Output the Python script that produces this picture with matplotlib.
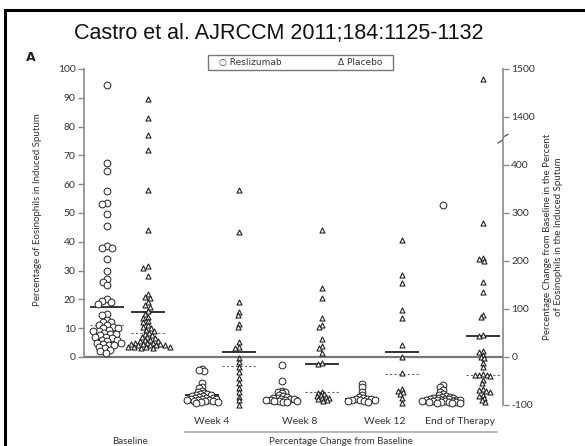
import numpy as np
import matplotlib
matplotlib.use("Agg")
import matplotlib.pyplot as plt
from matplotlib.lines import Line2D
from matplotlib.patches import Rectangle

# ---------------- data ----------------
groups = ["Baseline", "Week 4", "Week 8", "Week 12", "End of Therapy"]

# Baseline: percentage of eosinophils (left axis, 0-100)
base_resli = [94.5, 67.5, 64.5, 57.5, 53.5, 53, 49.5, 45.5, 38.5, 38, 38, 34, 30, 27, 26, 25,
              20, 19.5, 19, 18.5, 15, 14.5, 13, 12, 12, 11, 11, 10.5, 10, 10, 9.5, 9, 9, 8.5,
              8, 8, 7.5, 7, 7, 6.5, 6, 6, 5.5, 5, 5, 4.5, 4, 4, 3.5, 3, 2.5, 2, 1.5]
base_placebo = [89.5, 83, 77, 72, 58, 44, 31.5, 31, 28, 22, 21, 20.5, 19, 18, 17.5, 16, 15, 14,
                13.5, 12.5, 12, 11, 10.5, 10, 9.5, 9, 8.5, 8, 7.5, 7, 7, 6.5, 6, 6, 5.5, 5.5,
                5, 5, 5, 4.5, 4.5, 4.5, 4, 4, 4, 4, 3.5, 3.5, 3.5, 3.5, 3, 3]

# Percentage change from baseline (right axis)
wk4_resli = [-25, -30, -28, -55, -62, -65, -70, -72, -75, -78, -78, -80, -80, -82, -82, -84,
             -85, -85, -86, -87, -88, -88, -89, -90, -90, -91, -92, -92, -93, -94, -95]
wk4_placebo = [348, 260, 115, 94, 88, 69, 63, 31, 21, 19, -2, -10, -21, -31, -44, -54, -65,
               -73, -83, -90, -100]
wk8_resli = [-17, -50, -70, -72, -73, -76, -80, -82, -84, -85, -86, -87, -88, -88, -89, -90,
             -90, -91, -92, -92, -93, -94]
wk8_placebo = [265, 144, 123, 81, 67, 63, 38, 23, 19, 8, -13, -14, -73, -75, -78, -80, -82,
               -84, -85, -86, -88, -90, -92]
wk12_resli = [-56, -62, -73, -80, -84, -86, -87, -88, -88, -89, -90, -90, -91, -92, -93]
wk12_placebo = [244, 171, 154, 98, 81, 25, 0, -33, -67, -70, -73, -77, -85, -96]
eot_resli = [317, -58, -62, -69, -72, -78, -80, -82, -83, -84, -85, -86, -86, -87, -88, -88,
             -89, -89, -90, -90, -90, -91, -91, -92, -92, -93, -93, -94, -94, -95, -95, -96]
eot_placebo = [1479, 279, 206, 204, 200, 156, 135, 88, 83, 45, 44, 12, 10, 5, 0, -2, -13, -21,
               -35, -37, -37, -38, -40, -48, -54, -66, -69, -70, -72, -79, -82, -85, -90, -94]

# summary lines: solid (mean) and dashed (median)
base_solid = [17.4, 15.7]
base_dashed = [11.1, 8.4]
change_solid = [-80, 10, -85, -15, -88, 10, -88, 44]
change_dashed = [-83, -19, -85, -73, -88, -36, -90, -37]

left_ticks = [0, 10, 20, 30, 40, 50, 60, 70, 80, 90, 100]
right_ticks = [-100, 0, 100, 200, 300, 400, 1400, 1500]

# ---------------- layout ----------------
W, H = 585, 446
def fx(x): return x / W
def fy(y): return 1 - y / H

BREAK_SHIFT = 900          # values above the axis break are shifted down
LEFT_SCALE = 6             # 100 % on left axis == 600 on right axis
def to_plot(v):
    v = np.asarray(v, float)
    return np.where(v >= 1000, v - BREAK_SHIFT, v)

col_x = [107, 148, 202, 239, 282, 322, 362, 402, 443, 483]
# horizontal / vertical packing distance (px) for the swarm of each column
swarm_a = [5.5, 5.0, 4.2, 4.0, 4.2, 4.0, 4.2, 4.0, 4.2, 4.0]
swarm_b = [4.5, 3.5, 2.6, 3.0, 2.6, 3.0, 2.6, 3.0, 2.4, 3.0]

fig = plt.figure(figsize=(W / 100, H / 100), dpi=100)
ax = fig.add_axes([fx(84), fy(405), 419 / W, 336 / H])
ax.set_xlim(84, 503)
ax.set_ylim(-100, 600)
for s in ax.spines.values():
    s.set_visible(False)
ax.set_xticks([])

font = "Lato"
tcol = "#333333"
gcol = "#8a8a8a"

# left axis
ax.spines["left"].set_visible(True)
ax.spines["left"].set_bounds(0, 600)
ax.spines["left"].set_color(gcol)
ax.spines["left"].set_linewidth(1.2)
ax.set_yticks([t * LEFT_SCALE for t in left_ticks])
ax.set_yticklabels([str(t) for t in left_ticks], fontsize=7.5, color=tcol, family=font)
ax.tick_params(axis="y", length=4, width=1, color=gcol, pad=2)

# right axis
ax2 = ax.twinx()
ax2.set_ylim(ax.get_ylim())
for s in ax2.spines.values():
    s.set_visible(False)
ax2.spines["right"].set_visible(True)
ax2.spines["right"].set_bounds(-100, 448)
ax2.spines["right"].set_color(gcol)
ax2.spines["right"].set_linewidth(1.2)
ax2.set_yticks(to_plot(right_ticks))
ax2.set_yticklabels([str(t) for t in right_ticks], fontsize=7.5, color=tcol, family=font)
ax2.tick_params(axis="y", length=4, width=1, color=gcol, pad=2)
trans_r = ax2.get_yaxis_transform()
ax2.plot([1, 1], [462, 600], transform=trans_r, color=gcol, lw=1.2, clip_on=False)
# break mark
ax2.plot([0.988, 1.0, 1.0, 1.012], [446, 452, 458, 464], transform=trans_r,
         color="#555", lw=0.9, clip_on=False)

# zero line
ax.axhline(0, color="#777777", lw=1.6, zorder=2)

# pixel scale from the axes
fig.canvas.draw()
y_px_per_unit = ax.bbox.height / (ax.get_ylim()[1] - ax.get_ylim()[0])
x_px_per_unit = ax.bbox.width / (ax.get_xlim()[1] - ax.get_xlim()[0])

def swarm(vals, a, b):
    ypx = np.asarray(vals, float) * y_px_per_unit
    res = np.zeros(len(ypx))
    placed = []
    for i in np.argsort(-ypx):
        y = ypx[i]
        intervals = []
        cands = [0.0]
        for px, py in placed:
            dy = abs(py - y)
            if dy < b:
                w = a * np.sqrt(1 - (dy / b) ** 2)
                intervals.append((px - w, px + w))
                cands += [px - w, px + w]
        cands.sort(key=abs)
        for c in cands:
            if all(not (lo + 1e-6 < c < hi - 1e-6) for lo, hi in intervals):
                break
        res[i] = c
        placed.append((c, y))
    return res / x_px_per_unit

series = [base_resli, base_placebo, wk4_resli, wk4_placebo, wk8_resli, wk8_placebo,
          wk12_resli, wk12_placebo, eot_resli, eot_placebo]
for k, vals in enumerate(series):
    if k < 2:
        pv = np.asarray(vals, float) * LEFT_SCALE
    else:
        pv = to_plot(vals)
    resli = (k % 2 == 0)
    xo = swarm(pv, swarm_a[k], swarm_b[k]) + col_x[k]
    if resli:
        ax.scatter(xo, pv, s=24, marker="o", facecolor="white", edgecolor="#222",
                   linewidth=0.7, zorder=4, clip_on=False)
    else:
        ax.scatter(xo, pv, s=13, marker="^", facecolor="white", edgecolor="#222",
                   linewidth=0.8, zorder=4, clip_on=False)

solid_all = [v * LEFT_SCALE for v in base_solid] + change_solid
dashed_all = [v * LEFT_SCALE for v in base_dashed] + change_dashed
for k in range(len(col_x)):
    ax.hlines(solid_all[k], col_x[k] - 17, col_x[k] + 17, color="#111", lw=1.2, zorder=3)
    ax.hlines(dashed_all[k], col_x[k] - 17, col_x[k] + 17, color="#666", lw=0.8,
              linestyles=(0, (2, 2)), zorder=3)

# ---------------- text ----------------
fig.text(fx(279), fy(33), "Castro et al. AJRCCM 2011;184:1125-1132", fontsize=15.5,
         family="Liberation Sans", ha="center", va="center", color="#111")
fig.text(fx(31), fy(58), "A", fontsize=9, weight="bold", family="DejaVu Sans",
         ha="center", va="center", color="#222")

fig.text(fx(38), fy(210), "Percentage of Eosinophils in Induced Sputum", rotation=90,
         fontsize=7, family=font, color=tcol, ha="center", va="center")
fig.text(fx(553), fy(237), "Percentage Change from Baseline in the Percent\n"
         "of Eosinophils in the Induced Sputum", rotation=90, fontsize=7, family=font,
         color=tcol, ha="center", va="center", multialignment="center", linespacing=1.2)

for lab, x in zip(groups[1:], [212, 300, 385, 460]):
    fig.text(fx(x), fy(421), lab, fontsize=7.5, family=font, color=tcol,
             ha="center", va="center")
fig.text(fx(130), fy(441), groups[0], fontsize=7, family=font, color=tcol,
         ha="center", va="center")
fig.text(fx(341), fy(441), "Percentage Change from Baseline", fontsize=7, family=font,
         color=tcol, ha="center", va="center")
fig.add_artist(Line2D([fx(185), fx(497)], [fy(432), fy(432)], color="#aaaaaa", lw=1.2))

# legend box
fig.add_artist(Rectangle((fx(208), fy(70)), (393 - 208) / W, 15 / H, facecolor="white",
                         edgecolor="#777", lw=1.0))
fig.text(fx(219), fy(62.5), "\u25cb Reslizumab", fontsize=6.5, family="DejaVu Sans",
         color=tcol, ha="left", va="center")
fig.text(fx(338), fy(62.5), "\u0394 Placebo", fontsize=6.5, family="DejaVu Sans",
         color=tcol, ha="left", va="center")

# slide border (top and left)
fig.add_artist(Line2D([fx(5), fx(585)], [fy(10), fy(10)], color="black", lw=2.2))
fig.add_artist(Line2D([fx(5), fx(5)], [fy(10), fy(446)], color="black", lw=2.2))

fig.savefig("out.png", dpi=100)
